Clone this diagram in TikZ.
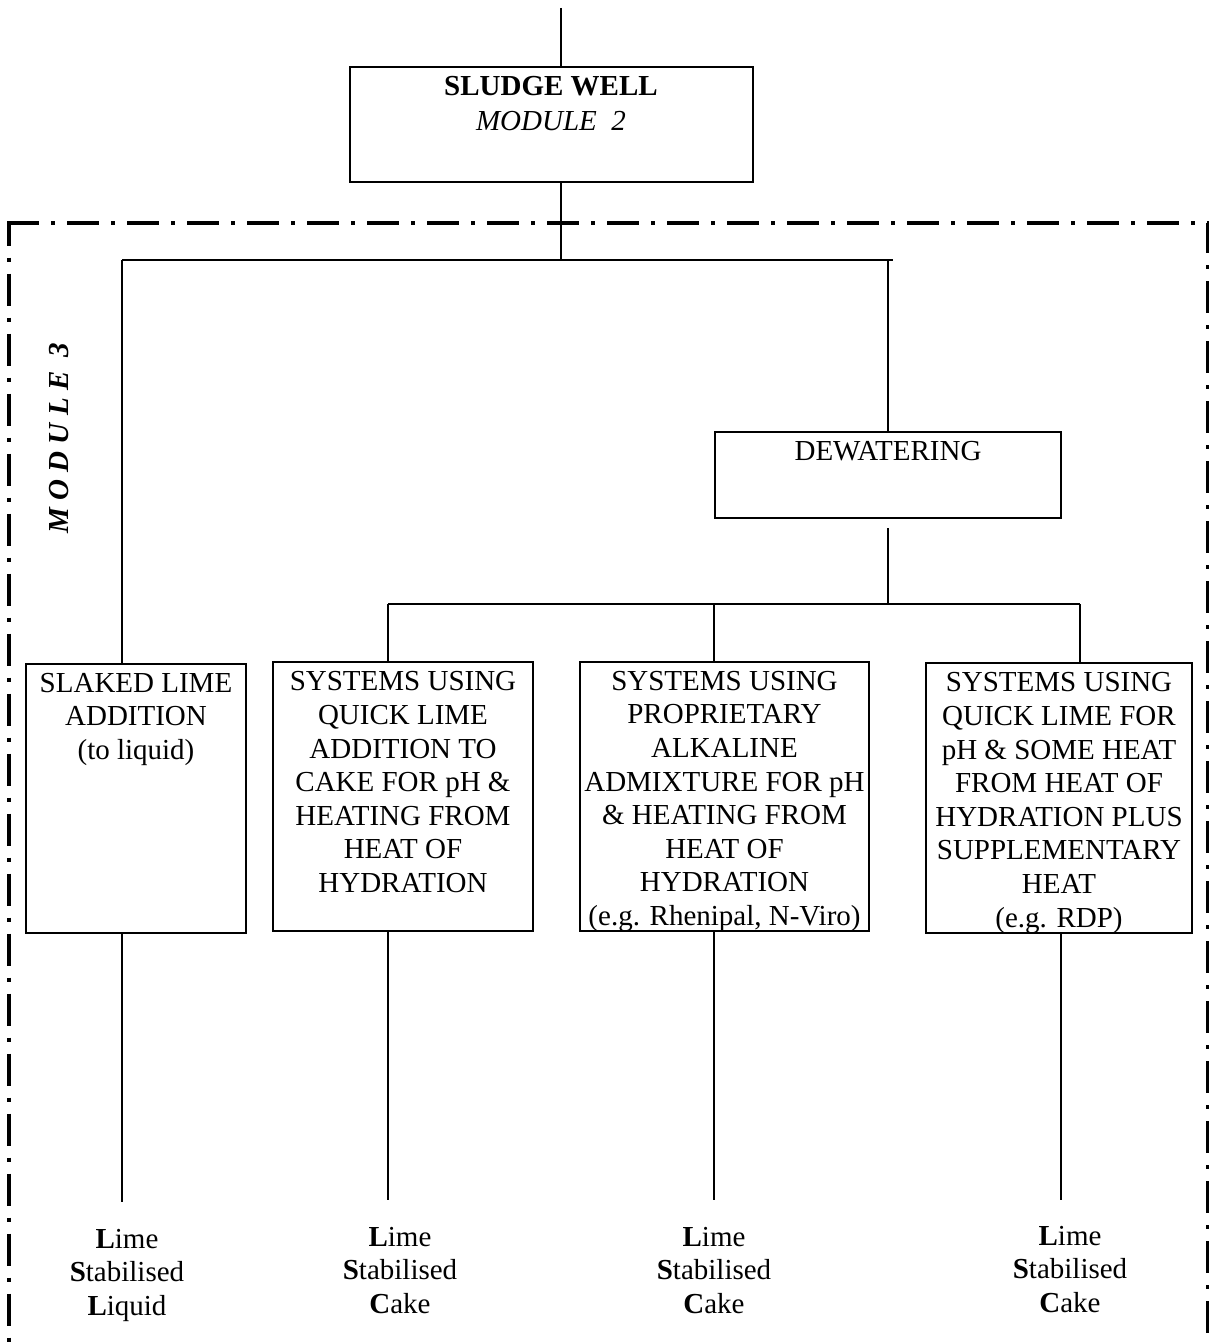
\documentclass[tikz,border=0pt]{standalone}
\usepackage{fontspec}
\setmainfont{Liberation Serif}
\begin{document}
\begin{tikzpicture}[x=1pt,y=-1pt,
  every node/.style={font=\fontsize{29}{33.6}\selectfont},
  boxnode/.style={draw, line width=2pt, inner sep=0pt},
  boxtext/.style={anchor=north, inner sep=0pt, align=center},
  link/.style={line width=1.5pt},
  border/.style={line width=3.6pt, dash pattern=on 32pt off 12pt on 4pt off 12pt},
]
\useasboundingbox (0,0) rectangle (1209,1343);

% process boxes
\node[boxnode, minimum width=403pt, minimum height=115pt] (well) at (551.5,124.5) {};
\node[boxnode, minimum width=346.3pt, minimum height=86pt] (dewater) at (887.85,474.7) {};
\node[boxnode, minimum width=219.7pt, minimum height=269pt] (slaked) at (135.85,798.5) {};
\node[boxnode, minimum width=260pt, minimum height=269pt] (quick) at (403,796.5) {};
\node[boxnode, minimum width=289pt, minimum height=269pt] (prop) at (724.5,796.5) {};
\node[boxnode, minimum width=266pt, minimum height=270pt] (supp) at (1059,798) {};

% box captions
\node[boxtext] (wellT) at (551,71.5) {\strut\textbf{SLUDGE WELL}\\[1.4pt]\textit{MODULE\ \ 2}};
\node[boxtext] (dewaterT) at (888,437.2) {\strut DEWATERING};
\node[boxtext] (slakedT) at (136,668.5) {\strut SLAKED LIME\\ADDITION\\(to liquid)};
\node[boxtext] (quickT) at (403,667.2) {\strut SYSTEMS USING\\QUICK LIME\\ADDITION TO\\CAKE FOR pH \&\\HEATING FROM\\HEAT OF\\HYDRATION};
\node[boxtext] (propT) at (724.5,666.5) {\strut SYSTEMS USING\\PROPRIETARY\\ALKALINE\\ADMIXTURE FOR pH\\\& HEATING FROM\\HEAT OF\\HYDRATION\\(e.g. Rhenipal, N-Viro)};
\node[boxtext] (suppT) at (1059,668.2) {\strut SYSTEMS USING\\QUICK LIME FOR\\pH \& SOME HEAT\\FROM HEAT OF\\HYDRATION PLUS\\SUPPLEMENTARY\\HEAT\\(e.g. RDP)};

% module 3 boundary and its label
\draw[border] (7.2,222.7) -- (1209,222.7);
\draw[border, dash phase=9pt] (9.2,222.7) -- (9.2,1343);
\draw[border, dash phase=2pt] (1207.7,222.7) -- (1207.7,1343);
\node[rotate=90, anchor=base, inner sep=0pt,
      font=\fontsize{29}{33.6}\selectfont\bfseries\itshape] (mod3) at (68,438) {M O D U L E\ \ 3};

% connectors
\coordinate (feed) at (561,8);
\coordinate (split) at (561,260);
\coordinate (barL) at (122,260);
\coordinate (barR) at (893,260);
\coordinate (bar2L) at (388,604);
\coordinate (bar2M) at (714,604);
\coordinate (bar2R) at (1080,604);
\coordinate (out1) at (122,1202);
\coordinate (out2) at (388,1200);
\coordinate (out3) at (714,1200);
\coordinate (out4) at (1061,1200);

\draw[link] (feed) -- (feed |- well.north);
\draw[link] (split |- well.south) -- (split);
\draw[link] (barL) -- (barR);
\draw[link] (barL) -- (barL |- slaked.north);
\draw[link] (dewater.north |- barR) -- (dewater.north);
\draw[link] ([yshift=-9.5pt]dewater.south) -- (dewater.south |- bar2R);
\draw[link] (bar2L) -- (bar2R);
\draw[link] (bar2L) -- (bar2L |- quick.north);
\draw[link] (bar2M) -- (bar2M |- prop.north);
\draw[link] (bar2R) -- (bar2R |- supp.north);
\draw[link] (out1 |- slaked.south) -- (out1);
\draw[link] (out2 |- quick.south) -- (out2);
\draw[link] (out3 |- prop.south) -- (out3);
\draw[link] (out4 |- supp.south) -- (out4);

% products
\node[boxtext] (lab1) at (127,1224.5) {\strut\textbf{L}ime\\\textbf{S}tabilised\\\textbf{L}iquid};
\node[boxtext] (lab2) at (400,1222.5) {\strut\textbf{L}ime\\\textbf{S}tabilised\\\textbf{C}ake};
\node[boxtext] (lab3) at (714,1222.5) {\strut\textbf{L}ime\\\textbf{S}tabilised\\\textbf{C}ake};
\node[boxtext] (lab4) at (1070,1221.5) {\strut\textbf{L}ime\\\textbf{S}tabilised\\\textbf{C}ake};
\end{tikzpicture}
\end{document}
